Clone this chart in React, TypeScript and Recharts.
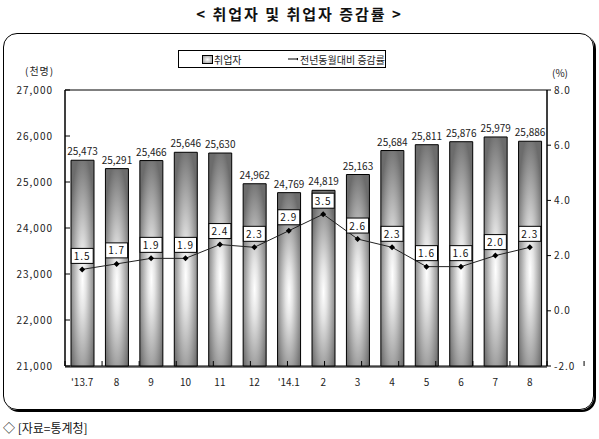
import React from "react";
import {
  Bar,
  ComposedChart,
  LabelList,
  Line,
  ReferenceArea,
  XAxis,
  YAxis,
} from "recharts";

const months = ["'13.7", "8", "9", "10", "11", "12", "'14.1", "2", "3", "4", "5", "6", "7", "8"];
const employed = [25473, 25291, 25466, 25646, 25630, 24962, 24769, 24819, 25163, 25684, 25811, 25876, 25979, 25886];
const growthRate = [1.5, 1.7, 1.9, 1.9, 2.4, 2.3, 2.9, 3.5, 2.6, 2.3, 1.6, 1.6, 2.0, 2.3];
const leftTicks = [21000, 22000, 23000, 24000, 25000, 26000, 27000];
const rightTicks = [-2, 0, 2, 4, 6, 8];
const boundaryTicks = [0, 1, 2, 3, 4, 5, 6, 7, 8, 9, 10, 11, 12, 13, 14];

const data = months.map((m, i) => ({ month: m, employed: employed[i], rate: growthRate[i] }));

const FONT = "'Noto Sans CJK KR', 'Noto Sans', sans-serif";

const RateBox = (props: any) => {
  const { x, y, value } = props;
  if (x == null || y == null) return null;
  return (
    <g>
      <rect x={x - 11} y={y - 21} width={22} height={15} fill="#fff" stroke="#000" strokeWidth={1} />
      <text x={x} y={y - 9.5} textAnchor="middle" fontSize={10} fontFamily={FONT} fill="#111" letterSpacing={1}>
        {Number(value).toFixed(1)}
      </text>
    </g>
  );
};

const Diamond = (props: any) => {
  const { cx, cy, index } = props;
  return <path key={index} d={`M${cx},${cy - 3}L${cx + 3},${cy}L${cx},${cy + 3}L${cx - 3},${cy}Z`} fill="#000" />;
};

const LegendBox = () => (
  <div
    style={{
      position: "absolute",
      left: 178,
      top: 50,
      width: 206,
      height: 16,
      border: "1px solid #000",
      display: "flex",
      alignItems: "center",
      fontFamily: FONT,
      fontSize: 10,
      color: "#222",
      background: "#fff",
      whiteSpace: "nowrap",
    }}
  >
    <span
      style={{
        display: "inline-block",
        width: 19,
        height: 7,
        marginLeft: 23,
        border: "1px solid #000",
        background: "radial-gradient(ellipse at center, #ffffff 0%, #9a9a9a 100%)",
      }}
    />
    <span style={{ marginLeft: 1 }}>취업자</span>
    <svg width={22} height={8} style={{ marginLeft: 46 }}>
      <line x1={0} y1={4} x2={22} y2={4} stroke="#000" />
      <path d="M11,1.5L13.5,4L11,6.5L8.5,4Z" fill="#000" />
    </svg>
    <span style={{ marginLeft: 2 }}>전년동월대비 증감률</span>
  </div>
);

export default function App() {
  return (
    <div style={{ position: "absolute", left: 0, top: 0, width: 599, height: 439, background: "#fff", overflow: "hidden" }}>
      <div
        style={{
          position: "absolute",
          left: 0,
          top: 3,
          width: 599,
          textAlign: "center",
          fontFamily: FONT,
          fontSize: 15,
          fontWeight: 600,
          letterSpacing: 2,
          color: "#111",
        }}
      >
        &lt; 취업자 및 취업자 증감률 &gt;
      </div>
      <div
        style={{
          position: "absolute",
          left: 3,
          top: 33,
          width: 589,
          height: 375,
          border: "1px solid #000",
          borderRadius: 14,
          boxShadow: "2px 2px 0 #000",
        }}
      />
      <div style={{ position: "absolute", left: 25, top: 63, fontFamily: FONT, fontSize: 10, color: "#222", letterSpacing: 1 }}>
        (천명)
      </div>
      <div style={{ position: "absolute", left: 552, top: 65, fontFamily: FONT, fontSize: 10, color: "#222" }}>(%)</div>
      <div style={{ position: "absolute", left: 3, top: 419, fontFamily: FONT, fontSize: 12, color: "#111" }}>
        ◇ [자료=통계청]
      </div>
      <LegendBox />
      <div style={{ position: "absolute", left: 0, top: 0 }}>
        <ComposedChart width={599} height={439} data={data} margin={{ top: 90, left: 15, right: 12, bottom: 52 }}>
          <defs>
            <radialGradient id="barGrad" cx="0.5" cy="0.58" r="0.62">
              <stop offset="0" stopColor="#ffffff" />
              <stop offset="0.25" stopColor="#e4e4e4" />
              <stop offset="1" stopColor="#6c6c6c" />
            </radialGradient>
          </defs>
          <XAxis
            dataKey="month"
            xAxisId="cat"
            height={20}
            tickLine={false}
            axisLine={{ stroke: "#000" }}
            tick={{ fontSize: 10, fontFamily: FONT, fill: "#222" }}
            tickMargin={6}
          />
          <XAxis
            xAxisId="axisEdge"
            type="number"
            domain={[0, 14]}
            ticks={boundaryTicks}
            interval={0}
            height={1}
            axisLine={false}
            tick={() => <g />}
            tickSize={-5}
            tickLine={{ stroke: "#000" }}
          />
          <YAxis
            yAxisId="left"
            domain={[21000, 27000]}
            ticks={leftTicks}
            width={50}
            interval={0}
            axisLine={{ stroke: "#000" }}
            tickLine={{ stroke: "#000" }}
            tickSize={-5}
            tickMargin={17}
            tickFormatter={(v: number) => v.toLocaleString("en-US")}
            tick={{ fontSize: 10, fontFamily: FONT, fill: "#222", letterSpacing: 1 }}
          />
          <YAxis
            yAxisId="right"
            orientation="right"
            domain={[-2, 8]}
            ticks={rightTicks}
            width={40}
            interval={0}
            axisLine={{ stroke: "#000" }}
            tickLine={{ stroke: "#000" }}
            tickSize={4}
            tickMargin={3}
            tickFormatter={(v: number) => v.toFixed(1)}
            tick={{ fontSize: 10, fontFamily: FONT, fill: "#222", letterSpacing: 1 }}
          />
          <ReferenceArea
            yAxisId="left"
            xAxisId="cat"
            y1={21000}
            y2={27000}
            fill="none"
            stroke="#000"
            strokeWidth={1}
            ifOverflow="visible"
          />
          <Bar
            dataKey="employed"
            name="취업자"
            yAxisId="left"
            xAxisId="cat"
            barSize={23}
            fill="url(#barGrad)"
            stroke="#000"
            strokeWidth={1}
            isAnimationActive={false}
          >
            <LabelList
              dataKey="employed"
              position="top"
              offset={5}
              formatter={(v: any) => Number(v).toLocaleString("en-US")}
              style={{ fontSize: 10, fontFamily: FONT, fill: "#222" }}
            />
          </Bar>
          <Line
            dataKey="rate"
            name="전년동월대비 증감률"
            yAxisId="right"
            xAxisId="cat"
            type="linear"
            stroke="#222"
            strokeWidth={1}
            dot={Diamond}
            activeDot={false}
            label={RateBox}
            isAnimationActive={false}
          />
        </ComposedChart>
      </div>
    </div>
  );
}
